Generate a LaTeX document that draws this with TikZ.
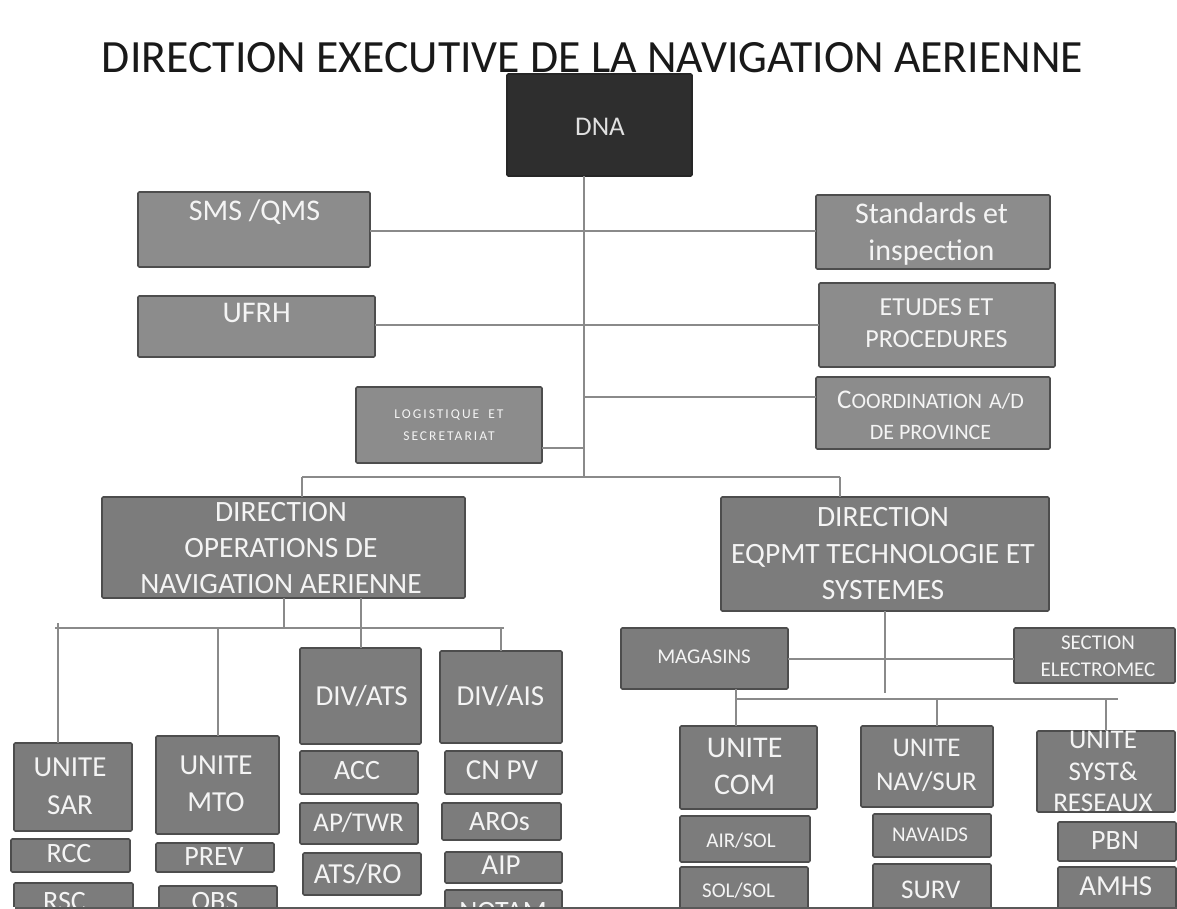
\documentclass[tikz,border=0pt]{standalone}
\usepackage{fontspec}
\setmainfont{Carlito}
\usepackage{graphicx}
\definecolor{boxlight}{HTML}{8C8C8C}
\definecolor{boxmid}{HTML}{7C7C7C}
\definecolor{boxedge}{HTML}{4D4D4D}
\definecolor{linec}{HTML}{8A8A8A}
\definecolor{txtc}{HTML}{F4F4F4}
\definecolor{dnac}{HTML}{2E2E2E}
\newcommand\myfs[2]{\fontsize{#1}{#2}\selectfont}
\newcommand\bx[6]{\node[#1, minimum width={(#5)-(#3)}, minimum height={(#6)-(#4)}] (#2) at ({((#3)+(#5))/2},{((#4)+(#6))/2}) {};}
\tikzset{
 boxbase/.style={draw=boxedge, line width=1.6pt, rounded corners=1.2pt, inner sep=0pt, outer sep=0pt},
 boxL/.style={boxbase, fill=boxlight},
 boxM/.style={boxbase, fill=boxmid},
 boxD/.style={boxbase, fill=dnac, draw=black!85},
 txt/.style={text=txtc, inner sep=0pt, align=center, text depth=0pt},
 link/.style={draw=linec, line width=2pt},
}
\begin{document}
\begin{tikzpicture}[x=1pt,y=-1pt]
\fill[white] (0,0) rectangle (1177,909);
\useasboundingbox (0,0) rectangle (1177,909);

\node[inner sep=0pt, text=black!90] (title) at (592.5,58) {\resizebox{981pt}{30pt}{\myfs{40}{40}DIRECTION EXECUTIVE DE LA NAVIGATION AERIENNE}};

\begin{scope}
\clip (0,0) rectangle (1177,906.5);
% boxes
\bx{boxD}{dna}{507}{74}{692}{176}
\bx{boxL}{sms}{138}{192}{370}{267}
\bx{boxL}{ufrh}{138}{296}{375}{357}
\bx{boxL}{logi}{356}{387}{542}{463}
\bx{boxL}{std}{816}{195}{1050}{269}
\bx{boxL}{etu}{819}{283}{1055}{367}
\bx{boxL}{coord}{816}{377}{1050}{449}
\bx{boxM}{dirops}{102}{497}{465}{598}
\bx{boxM}{direq}{721}{497}{1049}{611}
\bx{boxM}{sar}{14}{743}{132}{831}
\bx{boxM}{rcc}{11}{839}{130}{872}
\bx{boxM}{rsc}{14}{883}{133}{930}
\bx{boxM}{mto}{156}{736}{279}{834}
\bx{boxM}{prev}{156}{843}{274}{872}
\bx{boxM}{obs}{159}{886}{277}{930}
\bx{boxM}{divats}{300}{648}{421}{744}
\bx{boxM}{acc}{300}{751}{418}{794}
\bx{boxM}{aptwr}{300}{803}{418}{844}
\bx{boxM}{atsro}{303}{853}{421}{895}
\bx{boxM}{divais}{440}{651}{562}{743}
\bx{boxM}{cnpv}{445}{751}{562}{794}
\bx{boxM}{aros}{442}{803}{561}{840}
\bx{boxM}{aip}{445}{852}{562}{883}
\bx{boxM}{notam}{445}{890}{562}{930}
\bx{boxM}{mag}{621}{628}{788}{689}
\bx{boxM}{sec}{1014}{628}{1175}{683}
\bx{boxM}{com}{680}{726}{817}{809}
\bx{boxM}{navsur}{861}{726}{993}{807}
\bx{boxM}{syst}{1037}{731}{1175}{812}
\bx{boxM}{airsol}{680}{816}{810}{862}
\bx{boxM}{solsol}{680}{867}{808}{930}
\bx{boxM}{navaids}{873}{814}{991}{857}
\bx{boxM}{surv}{873}{864}{991}{930}
\bx{boxM}{pbn}{1058}{822}{1176}{861}
\bx{boxM}{amhs}{1058}{867}{1176}{930}

% texts
\node[txt, text=black!12, font={\myfs{27}{27}}] (t-dna) at (600,127) {DNA};
\node[txt, font={\myfs{30}{30}}] (t-sms) at (254.5,210) {SMS /QMS};
\node[txt, font={\myfs{30}{30}}] (t-ufrh) at (256.7,313) {UFRH};
\node[txt, font={\myfs{13.5}{22}\addfontfeatures{LetterSpace=15}}] (t-logi) at (449,425) {LOGISTIQUE\hspace{4pt} ET\\SECRETARIAT};
\node[txt, font={\myfs{30}{37}}] (t-std) at (931.5,231.5) {Standards et\\inspection};
\node[txt, font={\myfs{26}{32}}] (t-etu) at (936.5,323) {ETUDES ET\\PROCEDURES};
\node[txt, font={\myfs{22}{31}}] (t-coord) at (930.5,415.5) {{\myfs{27}{31}C}OORDINATION\hspace{7pt}A/D\\DE PROVINCE};
\node[txt, font={\myfs{29.5}{36}}] (t-dirops) at (281,547.5) {DIRECTION\\OPERATIONS DE\\NAVIGATION AERIENNE};
\node[txt, font={\myfs{29.5}{36.5}}] (t-direq) at (883,553.5) {DIRECTION\\EQPMT TECHNOLOGIE ET\\SYSTEMES};
\node[txt, font={\myfs{29}{38}}] (t-sar) at (70,786) {UNITE\\SAR};
\node[txt, font={\myfs{29}{37}}] (t-mto) at (216,783.5) {UNITE\\MTO};
\node[txt, font={\myfs{28}{28}}] (t-rcc) at (69,853) {RCC};
\node[txt, font={\myfs{28}{28}}] (t-prev) at (214,857) {PREV};
\node[txt, font={\myfs{28}{28}}] (t-rsc) at (64.5,901) {RSC};
\node[txt, font={\myfs{28}{28}}] (t-obs) at (215,901) {OBS};
\node[txt, font={\myfs{29}{29}}] (t-divats) at (361.6,695) {DIV/ATS};
\node[txt, font={\myfs{29}{29}}] (t-divais) at (500.4,695) {DIV/AIS};
\node[txt, font={\myfs{28}{28}}] (t-acc) at (357,770) {ACC};
\node[txt, font={\myfs{27}{27}}] (t-aptwr) at (358.6,822.5) {AP/TWR};
\node[txt, font={\myfs{29}{29}}] (t-atsro) at (357.8,873) {ATS/RO};
\node[txt, font={\myfs{29}{29}}] (t-cnpv) at (502,770) {CN PV};
\node[txt, font={\myfs{28}{28}}] (t-aros) at (499.4,821) {AROs};
\node[txt, font={\myfs{29}{29}}] (t-aip) at (501,865.5) {AIP};
\node[txt, font={\myfs{28}{28}}] (t-notam) at (503,911) {NOTAM};
\node[txt, font={\myfs{21}{21}}] (t-mag) at (704,657) {MAGASINS};
\node[txt, font={\myfs{21}{27}}] (t-sec) at (1098,656.5) {SECTION\\ELECTROMEC};
\node[txt, font={\myfs{30}{37}}] (t-com) at (744.7,766.5) {UNITE\\COM};
\node[txt, font={\myfs{27}{34}}] (t-navsur) at (926.5,765) {UNITE\\NAV/SUR};
\node[txt, font={\myfs{27}{31.5}}] (t-syst) at (1103,771.5) {UNITE\\SYST\&\\RESEAUX};
\node[txt, font={\myfs{21}{21}}] (t-airsol) at (741,840) {AIR/SOL};
\node[txt, font={\myfs{21}{21}}] (t-solsol) at (738.6,890) {SOL/SOL};
\node[txt, font={\myfs{21}{21}}] (t-navaids) at (930,835) {NAVAIDS};
\node[txt, font={\myfs{27}{27}}] (t-surv) at (930.8,890) {SURV};
\node[txt, font={\myfs{28}{28}}] (t-pbn) at (1115,841) {PBN};
\node[txt, font={\myfs{29}{29}}] (t-amhs) at (1115.8,886) {AMHS};
\end{scope}

% junction coordinates
\coordinate (spX) at (584,0);
\coordinate (busL) at (302,477);
\coordinate (busR) at (840,477);
\coordinate (ySms) at (0,231);
\coordinate (yU) at (0,325);
\coordinate (yC) at (0,397);
\coordinate (yL) at (0,448);
\coordinate (x284) at (284,0);
\coordinate (b2L) at (55,628);
\coordinate (b2R) at (504,628);
\coordinate (b2Ltop) at (58,623);
\coordinate (x885) at (885,0);
\coordinate (eqEnd) at (885,693);
\coordinate (b3L) at (736,699);
\coordinate (b3R) at (1118,699);
\coordinate (x937) at (937,0);

% connectors
\draw[link] (dna.south -| spX) -- (busL -| spX);
\draw[link] (busL) -- (busR);
\draw[link] (busL) -- (busL |- dirops.north);
\draw[link] (busR) -- (busR |- direq.north);
\draw[link] (sms.east |- ySms) -- (std.west |- ySms);
\draw[link] (ufrh.east |- yU) -- (etu.west |- yU);
\draw[link] (spX |- yC) -- (coord.west |- yC);
\draw[link] (logi.east |- yL) -- (spX |- yL);

\draw[link] (b2L) -- (b2R);
\draw[link] (dirops.south -| x284) -- (b2L -| x284);
\draw[link] (divats.north |- dirops.south) -- (divats.north);
\draw[link] (b2Ltop) -- (sar.north -| b2Ltop);
\draw[link] (mto.north |- b2L) -- (mto.north);
\draw[link] (divais.north |- b2L) -- (divais.north);

\draw[link] (direq.south -| x885) -- (eqEnd);
\draw[link] (mag.east) -- (sec.west |- mag.east);
\draw[link] (b3L) -- (b3R);
\draw[link] (mag.south -| b3L) -- (com.north -| b3L);
\draw[link] (b3L -| x937) -- (navsur.north -| x937);
\draw[link] (syst.north |- b3L) -- (syst.north);

\draw[line width=1.5pt, draw=black!65] (15,907.8) -- (1177,907.8);
\end{tikzpicture}
\end{document}
